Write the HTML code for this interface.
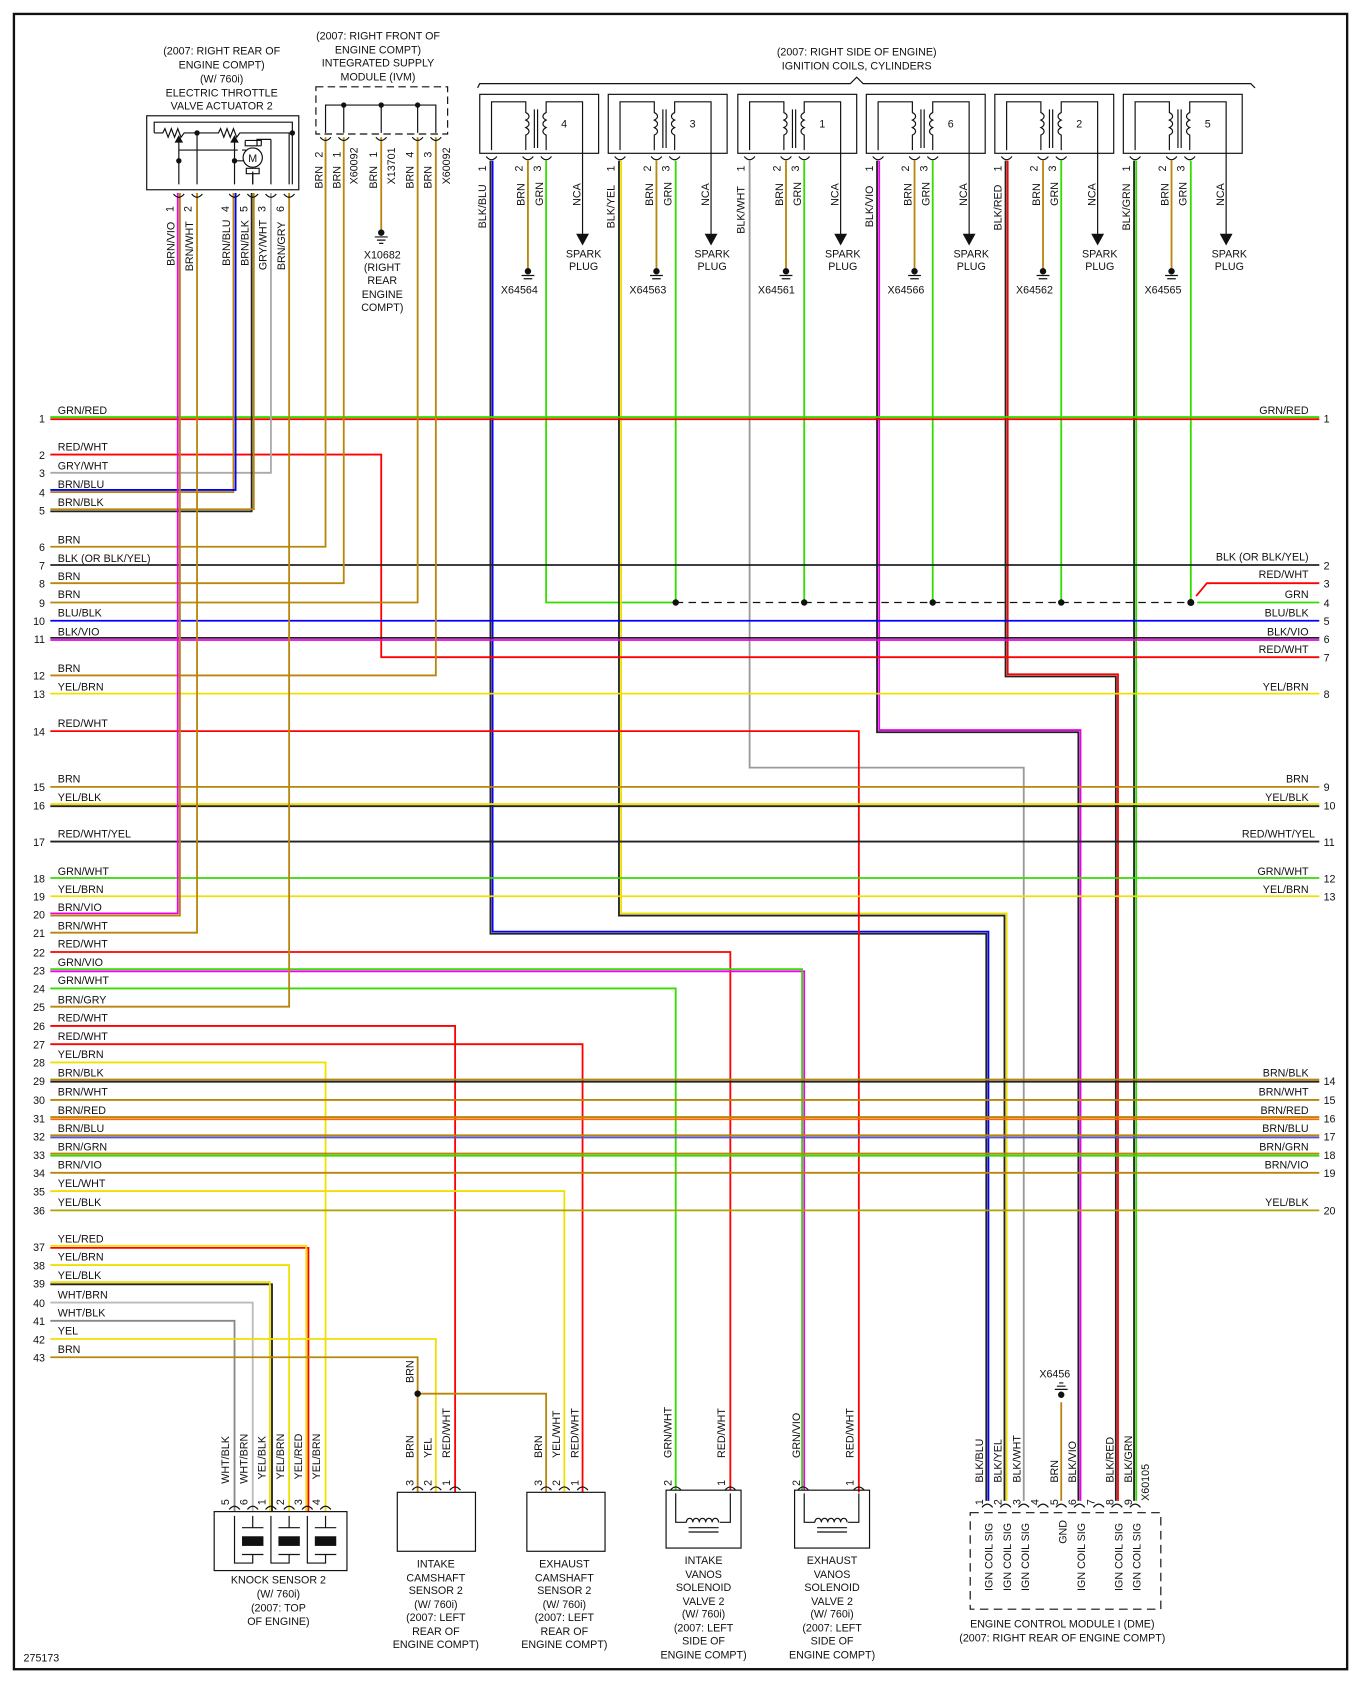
<!DOCTYPE html>
<html><head><meta charset="utf-8"><style>
html,body{margin:0;padding:0;background:#fff;}
svg{display:block;}
text{font-family:"Liberation Sans",sans-serif;font-size:10px;fill:#111;}
.w{fill:none;stroke-width:1.7;}
.k{fill:none;stroke:#111;stroke-width:1.1;}
</style></head><body>
<svg width="1360" height="1681" viewBox="0 0 1270 1568" preserveAspectRatio="none" xmlns="http://www.w3.org/2000/svg">
<rect x="0" y="0" width="1270" height="1568" fill="#fff"/>
<rect x="13" y="13" width="1245" height="1544" fill="none" stroke="#111" stroke-width="2.2"/>

<!-- ===== Top captions ===== -->
<g text-anchor="middle">
<text x="207" y="51">(2007: RIGHT REAR OF</text>
<text x="207" y="64">ENGINE COMPT)</text>
<text x="207" y="77">(W/ 760i)</text>
<text x="207" y="90">ELECTRIC THROTTLE</text>
<text x="207" y="102">VALVE ACTUATOR 2</text>
<text x="353" y="37">(2007: RIGHT FRONT OF</text>
<text x="353" y="50">ENGINE COMPT)</text>
<text x="353" y="62">INTEGRATED SUPPLY</text>
<text x="353" y="75">MODULE (IVM)</text>
<text x="800" y="52">(2007: RIGHT SIDE OF ENGINE)</text>
<text x="800" y="65">IGNITION COILS, CYLINDERS</text>
</g>
<path class="k" d="M446 82 L448 78 H794 L800 72 L806 78 H1168 L1172 82"/>

<!-- ===== Throttle actuator ===== -->
<rect x="137" y="108" width="142" height="69" class="k"/>
<path class="k" d="M144 124 V114 H273 V124 M144 124 H152 l2 -4 l3 8 l3 -8 l3 8 l3 -8 l3 8 l3 -4 H204 l2 -4 l3 8 l3 -8 l3 8 l3 -8 l3 8 l3 -4 H273 V172"/>
<path class="k" d="M167 128 V172 M184 124 V172 M219 128 V172 M236 160 V172 M253 130 V172 M167 140 H222 M226 140 H230"/>
<path d="M163 133 L167 126 L171 133Z M215 133 L219 126 L223 133Z" fill="#111"/>
<circle cx="167" cy="150" r="2.5" fill="#111"/><circle cx="184" cy="124" r="2.5" fill="#111"/><circle cx="219" cy="150" r="2.5" fill="#111"/><circle cx="273" cy="124" r="2.5" fill="#111"/>
<path class="k" d="M219 150 H228 M229 131 H244 V136 M253 130 H240 V136 M229 131 V136 H244"/>
<circle cx="236" cy="147" r="9" class="k"/><text x="236" y="151" text-anchor="middle" font-size="11">M</text>
<path class="k" d="M230 157 H242 V162 H230Z M236 162 V172 M270 124 V172"/>
<g text-anchor="middle" font-size="10">
<g transform="translate(162,195) rotate(-90)"><text>1</text></g>
<g transform="translate(179,195) rotate(-90)"><text>2</text></g>
<g transform="translate(214,195) rotate(-90)"><text>4</text></g>
<g transform="translate(231,195) rotate(-90)"><text>5</text></g>
<g transform="translate(248,195) rotate(-90)"><text>3</text></g>
<g transform="translate(265,195) rotate(-90)"><text>6</text></g>
</g>
<g>
<g transform="translate(163,248) rotate(-90)"><text>BRN/VIO</text></g>
<g transform="translate(180,253) rotate(-90)"><text>BRN/WHT</text></g>
<g transform="translate(215,248) rotate(-90)"><text>BRN/BLU</text></g>
<g transform="translate(232,248) rotate(-90)"><text>BRN/BLK</text></g>
<g transform="translate(249,252) rotate(-90)"><text>GRY/WHT</text></g>
<g transform="translate(266,252) rotate(-90)"><text>BRN/GRY</text></g>
</g>

<!-- ===== IVM ===== -->
<rect x="295" y="81" width="123" height="44" fill="none" stroke="#111" stroke-width="1.1" stroke-dasharray="7,4"/>
<path class="k" d="M304 124 V98 H407 V124 M321 98 V124 M356 98 V124 M390 98 V124"/>
<circle cx="321" cy="98" r="2.5" fill="#111"/><circle cx="356" cy="98" r="2.5" fill="#111"/><circle cx="390" cy="98" r="2.5" fill="#111"/>
<g>
<g transform="translate(301,147) rotate(-90)"><text>2</text></g>
<g transform="translate(301,176) rotate(-90)"><text>BRN</text></g>
<g transform="translate(318,147) rotate(-90)"><text>1</text></g>
<g transform="translate(318,176) rotate(-90)"><text>BRN</text></g>
<g transform="translate(334,172) rotate(-90)"><text>X60092</text></g>
<g transform="translate(352,147) rotate(-90)"><text>1</text></g>
<g transform="translate(352,176) rotate(-90)"><text>BRN</text></g>
<g transform="translate(369,172) rotate(-90)"><text>X13701</text></g>
<g transform="translate(386,147) rotate(-90)"><text>4</text></g>
<g transform="translate(386,176) rotate(-90)"><text>BRN</text></g>
<g transform="translate(403,147) rotate(-90)"><text>3</text></g>
<g transform="translate(403,176) rotate(-90)"><text>BRN</text></g>
<g transform="translate(420,172) rotate(-90)"><text>X60092</text></g>
</g>
<path class="w" stroke="#b8860b" d="M356 128 V214"/>
<circle cx="356" cy="217" r="3" fill="#111"/><path class="k" d="M350 221 H362 M352 224 H360 M354 227 H358"/>
<g text-anchor="middle"><text x="357" y="241">X10682</text><text x="357" y="253">(RIGHT</text><text x="357" y="265">REAR</text><text x="357" y="278">ENGINE</text><text x="357" y="290">COMPT)</text></g>

<!-- ===== Coils ===== -->
<g id="coils">
<!-- coil template repeated -->
<g transform="translate(448,0)">
<rect x="0" y="88" width="111" height="55" class="k"/>
<path class="k" d="M11 140 V95 H43 V105 c4 2 4 5 0 7 c4 2 4 5 0 7 c4 2 4 5 0 7 V140 M62 140 V126 c-4 -2 -4 -5 0 -7 c-4 -2 -4 -5 0 -7 c-4 -2 -4 -5 0 -7 V95 H96 V222 M51 102 V138 M54 102 V138"/>
<path d="M90 218 L102 218 L96 229Z" fill="#111"/>
<text x="76" y="119">4</text>
</g>
<g transform="translate(568,0)">
<rect x="0" y="88" width="111" height="55" class="k"/>
<path class="k" d="M11 140 V95 H43 V105 c4 2 4 5 0 7 c4 2 4 5 0 7 c4 2 4 5 0 7 V140 M62 140 V126 c-4 -2 -4 -5 0 -7 c-4 -2 -4 -5 0 -7 c-4 -2 -4 -5 0 -7 V95 H96 V222 M51 102 V138 M54 102 V138"/>
<path d="M90 218 L102 218 L96 229Z" fill="#111"/>
<text x="76" y="119">3</text>
</g>
<g transform="translate(689,0)">
<rect x="0" y="88" width="111" height="55" class="k"/>
<path class="k" d="M11 140 V95 H43 V105 c4 2 4 5 0 7 c4 2 4 5 0 7 c4 2 4 5 0 7 V140 M62 140 V126 c-4 -2 -4 -5 0 -7 c-4 -2 -4 -5 0 -7 c-4 -2 -4 -5 0 -7 V95 H96 V222 M51 102 V138 M54 102 V138"/>
<path d="M90 218 L102 218 L96 229Z" fill="#111"/>
<text x="76" y="119">1</text>
</g>
<g transform="translate(809,0)">
<rect x="0" y="88" width="111" height="55" class="k"/>
<path class="k" d="M11 140 V95 H43 V105 c4 2 4 5 0 7 c4 2 4 5 0 7 c4 2 4 5 0 7 V140 M62 140 V126 c-4 -2 -4 -5 0 -7 c-4 -2 -4 -5 0 -7 c-4 -2 -4 -5 0 -7 V95 H96 V222 M51 102 V138 M54 102 V138"/>
<path d="M90 218 L102 218 L96 229Z" fill="#111"/>
<text x="76" y="119">6</text>
</g>
<g transform="translate(929,0)">
<rect x="0" y="88" width="111" height="55" class="k"/>
<path class="k" d="M11 140 V95 H43 V105 c4 2 4 5 0 7 c4 2 4 5 0 7 c4 2 4 5 0 7 V140 M62 140 V126 c-4 -2 -4 -5 0 -7 c-4 -2 -4 -5 0 -7 c-4 -2 -4 -5 0 -7 V95 H96 V222 M51 102 V138 M54 102 V138"/>
<path d="M90 218 L102 218 L96 229Z" fill="#111"/>
<text x="76" y="119">2</text>
</g>
<g transform="translate(1049,0)">
<rect x="0" y="88" width="111" height="55" class="k"/>
<path class="k" d="M11 140 V95 H43 V105 c4 2 4 5 0 7 c4 2 4 5 0 7 c4 2 4 5 0 7 V140 M62 140 V126 c-4 -2 -4 -5 0 -7 c-4 -2 -4 -5 0 -7 c-4 -2 -4 -5 0 -7 V95 H96 V222 M51 102 V138 M54 102 V138"/>
<path d="M90 218 L102 218 L96 229Z" fill="#111"/>
<text x="76" y="119">5</text>
</g>
</g>
<!-- coil labels -->
<g>
<g transform="translate(454,160) rotate(-90)"><text>1</text></g><g transform="translate(454,213) rotate(-90)"><text>BLK/BLU</text></g>
<g transform="translate(488,160) rotate(-90)"><text>2</text></g><g transform="translate(490,192) rotate(-90)"><text>BRN</text></g>
<g transform="translate(505,160) rotate(-90)"><text>3</text></g><g transform="translate(507,192) rotate(-90)"><text>GRN</text></g>
<g transform="translate(542,192) rotate(-90)"><text>NCA</text></g>
<g transform="translate(574,160) rotate(-90)"><text>1</text></g><g transform="translate(574,213) rotate(-90)"><text>BLK/YEL</text></g>
<g transform="translate(608,160) rotate(-90)"><text>2</text></g><g transform="translate(610,192) rotate(-90)"><text>BRN</text></g>
<g transform="translate(625,160) rotate(-90)"><text>3</text></g><g transform="translate(627,192) rotate(-90)"><text>GRN</text></g>
<g transform="translate(662,192) rotate(-90)"><text>NCA</text></g>
<g transform="translate(695,160) rotate(-90)"><text>1</text></g><g transform="translate(695,218) rotate(-90)"><text>BLK/WHT</text></g>
<g transform="translate(729,160) rotate(-90)"><text>2</text></g><g transform="translate(731,192) rotate(-90)"><text>BRN</text></g>
<g transform="translate(746,160) rotate(-90)"><text>3</text></g><g transform="translate(748,192) rotate(-90)"><text>GRN</text></g>
<g transform="translate(783,192) rotate(-90)"><text>NCA</text></g>
<g transform="translate(815,160) rotate(-90)"><text>1</text></g><g transform="translate(815,212) rotate(-90)"><text>BLK/VIO</text></g>
<g transform="translate(849,160) rotate(-90)"><text>2</text></g><g transform="translate(851,192) rotate(-90)"><text>BRN</text></g>
<g transform="translate(866,160) rotate(-90)"><text>3</text></g><g transform="translate(868,192) rotate(-90)"><text>GRN</text></g>
<g transform="translate(903,192) rotate(-90)"><text>NCA</text></g>
<g transform="translate(935,160) rotate(-90)"><text>1</text></g><g transform="translate(935,215) rotate(-90)"><text>BLK/RED</text></g>
<g transform="translate(969,160) rotate(-90)"><text>2</text></g><g transform="translate(971,192) rotate(-90)"><text>BRN</text></g>
<g transform="translate(986,160) rotate(-90)"><text>3</text></g><g transform="translate(988,192) rotate(-90)"><text>GRN</text></g>
<g transform="translate(1023,192) rotate(-90)"><text>NCA</text></g>
<g transform="translate(1055,160) rotate(-90)"><text>1</text></g><g transform="translate(1055,215) rotate(-90)"><text>BLK/GRN</text></g>
<g transform="translate(1089,160) rotate(-90)"><text>2</text></g><g transform="translate(1091,192) rotate(-90)"><text>BRN</text></g>
<g transform="translate(1106,160) rotate(-90)"><text>3</text></g><g transform="translate(1108,192) rotate(-90)"><text>GRN</text></g>
<g transform="translate(1143,192) rotate(-90)"><text>NCA</text></g>
</g>
<g text-anchor="middle">
<text x="545" y="240">SPARK</text><text x="545" y="252">PLUG</text>
<text x="665" y="240">SPARK</text><text x="665" y="252">PLUG</text>
<text x="787" y="240">SPARK</text><text x="787" y="252">PLUG</text>
<text x="907" y="240">SPARK</text><text x="907" y="252">PLUG</text>
<text x="1027" y="240">SPARK</text><text x="1027" y="252">PLUG</text>
<text x="1148" y="240">SPARK</text><text x="1148" y="252">PLUG</text>
<text x="485" y="274">X64564</text><text x="605" y="274">X64563</text><text x="725" y="274">X64561</text>
<text x="846" y="274">X64566</text><text x="966" y="274">X64562</text><text x="1086" y="274">X64565</text>
</g>
<!-- brown pin2 to grounds -->
<g stroke="#b8860b" class="w">
<path class="w" stroke="#b8860b" d="M493 150 V250 M613 150 V250 M734 150 V250 M854 150 V250 M974 150 V250 M1094 150 V250"/>
</g>
<g fill="#111">
<circle cx="493" cy="253" r="3"/><circle cx="613" cy="253" r="3"/><circle cx="734" cy="253" r="3"/><circle cx="854" cy="253" r="3"/><circle cx="974" cy="253" r="3"/><circle cx="1094" cy="253" r="3"/>
</g>
<path class="k" d="M487 257 H499 M489 260 H497 M607 257 H619 M609 260 H617 M728 257 H740 M730 260 H738 M848 257 H860 M850 260 H858 M968 257 H980 M970 260 H978 M1088 257 H1100 M1090 260 H1098"/>

<!-- ===== Coil GRN wires and dashed bus ===== -->
<path class="w" stroke="#33dd00" d="M510 150 V562 H631 M631 150 V562 M751 150 V562 M871 150 V562 M991 150 V562 M1112 150 V562 M1118 562 H1232"/>
<path d="M631 562 H1112" stroke="#111" stroke-width="1.2" stroke-dasharray="7,5" fill="none"/>
<g fill="#111"><circle cx="631" cy="562" r="3"/><circle cx="751" cy="562" r="3"/><circle cx="871" cy="562" r="3"/><circle cx="991" cy="562" r="3"/><circle cx="1112" cy="562" r="3.3"/></g>
<path class="w" stroke="#ff0000" d="M1117 556 L1127 544 H1232"/>

<!-- ===== Coil pin1 wires to ECM ===== -->
<path class="w" stroke="#222" d="M458 150 V871 H921 V1400"/>
<path class="w" stroke="#0000ff" d="M460 150 V869 H923 V1400"/>
<path class="w" stroke="#222" d="M578 150 V854 H938 V1400"/>
<path class="w" stroke="#f0e000" d="M580 150 V852 H940 V1400"/>
<path class="w" stroke="#999" d="M700 150 V716 H956 V1400"/>
<path class="w" stroke="#222" d="M819 150 V683 H1007 V1400"/>
<path class="w" stroke="#ee00ee" d="M821 150 V681 H1009 V1400"/>
<path class="w" stroke="#222" d="M939 150 V631 H1042 V1400"/>
<path class="w" stroke="#ff0000" d="M941 150 V629 H1044 V1400"/>
<path class="w" stroke="#222" d="M1059 150 V1400"/>
<path class="w" stroke="#33dd00" d="M1061 150 V1400"/>

<!-- ===== Left side wires ===== -->
<path class="w" stroke="#ff0000" d="M47 391 H1232"/>
<path class="w" stroke="#33dd00" d="M47 389 H1232"/>
<path class="w" stroke="#ff0000" d="M47 424 H356 V613 H1232"/>
<path class="w" stroke="#aaaaaa" d="M47 441 H253 V180"/>
<path class="w" stroke="#b8860b" d="M47 459 H218 V180"/>
<path class="w" stroke="#0000ff" d="M47 457 H220 V180" stroke-width="1"/>
<path class="w" stroke="#222" d="M47 477 H235 V180"/>
<path class="w" stroke="#b8860b" d="M47 475 H237 V180"/>
<path class="w" stroke="#b8860b" d="M47 510 H304 V128"/>
<path class="w" stroke="#222" d="M47 527 H1232"/>
<path class="w" stroke="#b8860b" d="M47 544 H321 V128"/>
<path class="w" stroke="#b8860b" d="M47 562 H390 V128"/>
<path class="w" stroke="#0000ff" d="M47 579 H1232"/>
<path class="w" stroke="#ee00ee" d="M47 597 H1232"/>
<path class="w" stroke="#222" d="M47 595 H1232"/>
<path class="w" stroke="#b8860b" d="M47 630 H407 V128"/>
<path class="w" stroke="#f0e000" d="M47 647 H1232"/>
<path class="w" stroke="#ff0000" d="M47 682 H802 V1392"/>
<path class="w" stroke="#b8860b" d="M47 734 H1232"/>
<path class="w" stroke="#222" d="M47 752 H1232" stroke-width="1"/>
<path class="w" stroke="#f0e000" d="M47 750 H1232"/>
<path class="w" stroke="#222" d="M47 785 H1232"/>
<path class="w" stroke="#33dd00" d="M47 819 H1232"/>
<path class="w" stroke="#f0e000" d="M47 836 H1232"/>
<path class="w" stroke="#b8860b" d="M47 854 H168 V180"/>
<path class="w" stroke="#ee00ee" d="M47 852 H166 V180"/>
<path class="w" stroke="#b8860b" d="M47 870 H184 V180"/>
<path class="w" stroke="#ff0000" d="M47 888 H682 V1390"/>
<path class="w" stroke="#ee00ee" d="M47 906 H751 V1390"/>
<path class="w" stroke="#33dd00" d="M47 904 H749 V1390"/>
<path class="w" stroke="#33dd00" d="M47 922 H631 V1390"/>
<path class="w" stroke="#b8860b" d="M47 939 H270 V180"/>
<path class="w" stroke="#ff0000" d="M47 957 H425 V1392"/>
<path class="w" stroke="#ff0000" d="M47 974 H544 V1392"/>
<path class="w" stroke="#f0e000" d="M47 991 H304 V1410"/>
<path class="w" stroke="#222" d="M47 1009 H1232"/><path class="w" stroke="#b8860b" d="M47 1007 H1232"/>
<path class="w" stroke="#b8860b" d="M47 1026 H1232"/>
<path class="w" stroke="#ff6600" d="M47 1044 H1232" stroke-width="1"/><path class="w" stroke="#b8860b" d="M47 1042 H1232"/>
<path class="w" stroke="#5555cc" d="M47 1061 H1232" stroke-width="1"/><path class="w" stroke="#b8860b" d="M47 1059 H1232"/>
<path class="w" stroke="#33dd00" d="M47 1078 H1232" stroke-width="1"/><path class="w" stroke="#b8860b" d="M47 1076 H1232"/>
<path class="w" stroke="#b8860b" d="M47 1094 H1232"/>
<path class="w" stroke="#f0e000" d="M47 1111 H527 V1392"/>
<path class="w" stroke="#b0a000" d="M47 1129 H1232"/>
<path class="w" stroke="#ff0000" d="M47 1164 H288 V1410" stroke-width="1"/><path class="w" stroke="#f0e000" d="M47 1162 H286 V1410"/>
<path class="w" stroke="#f0e000" d="M47 1180 H270 V1410"/>
<path class="w" stroke="#222" d="M47 1198 H254 V1410" stroke-width="1"/><path class="w" stroke="#f0e000" d="M47 1196 H252 V1410"/>
<path class="w" stroke="#bbbbbb" d="M47 1215 H236 V1410"/>
<path class="w" stroke="#888" d="M47 1232 H219 V1410"/>
<path class="w" stroke="#f0e000" d="M47 1249 H407 V1392"/>
<path class="w" stroke="#b8860b" d="M47 1266 H390 V1392 M390 1300 H510 V1392"/>
<circle cx="390" cy="1300" r="3" fill="#111"/>
<path class="w" stroke="#b8860b" d="M991 1308 V1400"/>
<circle cx="991" cy="1301" r="3" fill="#111"/><path class="k" d="M985 1296 H997 M987 1293 H995 M989 1290 H993"/>
<text x="985" y="1285" text-anchor="middle">X6456</text>

<!-- left numbers -->
<g text-anchor="end">
<text x="42" y="394">1</text><text x="42" y="428">2</text><text x="42" y="445">3</text><text x="42" y="463">4</text><text x="42" y="480">5</text>
<text x="42" y="514">6</text><text x="42" y="531">7</text><text x="42" y="548">8</text><text x="42" y="566">9</text><text x="42" y="583">10</text>
<text x="42" y="600">11</text><text x="42" y="634">12</text><text x="42" y="651">13</text><text x="42" y="686">14</text><text x="42" y="738">15</text>
<text x="42" y="755">16</text><text x="42" y="789">17</text><text x="42" y="823">18</text><text x="42" y="840">19</text><text x="42" y="857">20</text>
<text x="42" y="874">21</text><text x="42" y="892">22</text><text x="42" y="909">23</text><text x="42" y="926">24</text><text x="42" y="943">25</text>
<text x="42" y="961">26</text><text x="42" y="978">27</text><text x="42" y="995">28</text><text x="42" y="1012">29</text><text x="42" y="1030">30</text>
<text x="42" y="1047">31</text><text x="42" y="1064">32</text><text x="42" y="1081">33</text><text x="42" y="1098">34</text><text x="42" y="1115">35</text>
<text x="42" y="1133">36</text><text x="42" y="1167">37</text><text x="42" y="1184">38</text><text x="42" y="1201">39</text><text x="42" y="1219">40</text>
<text x="42" y="1236">41</text><text x="42" y="1253">42</text><text x="42" y="1270">43</text>
</g>
<!-- left labels -->
<g>
<text x="54" y="386">GRN/RED</text><text x="54" y="420">RED/WHT</text><text x="54" y="438">GRY/WHT</text><text x="54" y="455">BRN/BLU</text><text x="54" y="472">BRN/BLK</text>
<text x="54" y="507">BRN</text><text x="54" y="524">BLK (OR BLK/YEL)</text><text x="54" y="541">BRN</text><text x="54" y="558">BRN</text><text x="54" y="575">BLU/BLK</text>
<text x="54" y="593">BLK/VIO</text><text x="54" y="627">BRN</text><text x="54" y="644">YEL/BRN</text><text x="54" y="678">RED/WHT</text><text x="54" y="730">BRN</text>
<text x="54" y="747">YEL/BLK</text><text x="54" y="781">RED/WHT/YEL</text><text x="54" y="816">GRN/WHT</text><text x="54" y="833">YEL/BRN</text><text x="54" y="850">BRN/VIO</text>
<text x="54" y="867">BRN/WHT</text><text x="54" y="884">RED/WHT</text><text x="54" y="901">GRN/VIO</text><text x="54" y="918">GRN/WHT</text><text x="54" y="936">BRN/GRY</text>
<text x="54" y="953">RED/WHT</text><text x="54" y="970">RED/WHT</text><text x="54" y="987">YEL/BRN</text><text x="54" y="1004">BRN/BLK</text><text x="54" y="1022">BRN/WHT</text>
<text x="54" y="1039">BRN/RED</text><text x="54" y="1056">BRN/BLU</text><text x="54" y="1073">BRN/GRN</text><text x="54" y="1090">BRN/VIO</text><text x="54" y="1107">YEL/WHT</text>
<text x="54" y="1125">YEL/BLK</text><text x="54" y="1159">YEL/RED</text><text x="54" y="1176">YEL/BRN</text><text x="54" y="1193">YEL/BLK</text><text x="54" y="1211">WHT/BRN</text>
<text x="54" y="1228">WHT/BLK</text><text x="54" y="1245">YEL</text><text x="54" y="1262">BRN</text>
</g>
<!-- right labels -->
<g text-anchor="end">
<text x="1222" y="386">GRN/RED</text><text x="1222" y="523">BLK (OR BLK/YEL)</text><text x="1222" y="539">RED/WHT</text><text x="1222" y="558">GRN</text>
<text x="1222" y="575">BLU/BLK</text><text x="1222" y="593">BLK/VIO</text><text x="1222" y="609">RED/WHT</text><text x="1222" y="644">YEL/BRN</text>
<text x="1222" y="730">BRN</text><text x="1222" y="747">YEL/BLK</text><text x="1228" y="781">RED/WHT/YEL</text><text x="1222" y="816">GRN/WHT</text><text x="1222" y="833">YEL/BRN</text>
<text x="1222" y="1004">BRN/BLK</text><text x="1222" y="1022">BRN/WHT</text><text x="1222" y="1039">BRN/RED</text><text x="1222" y="1056">BRN/BLU</text>
<text x="1222" y="1073">BRN/GRN</text><text x="1222" y="1090">BRN/VIO</text><text x="1222" y="1125">YEL/BLK</text>
</g>
<g>
<text x="1236" y="394">1</text><text x="1236" y="531">2</text><text x="1236" y="548">3</text><text x="1236" y="566">4</text><text x="1236" y="583">5</text>
<text x="1236" y="600">6</text><text x="1236" y="617">7</text><text x="1236" y="651">8</text><text x="1236" y="738">9</text><text x="1236" y="755">10</text>
<text x="1236" y="789">11</text><text x="1236" y="823">12</text><text x="1236" y="840">13</text><text x="1236" y="1012">14</text><text x="1236" y="1030">15</text>
<text x="1236" y="1047">16</text><text x="1236" y="1064">17</text><text x="1236" y="1081">18</text><text x="1236" y="1098">19</text><text x="1236" y="1133">20</text>
</g>

<!-- ===== Knock sensor ===== -->
<rect x="200" y="1410" width="124" height="55" class="k"/>
<path class="k" d="M219 1414 V1458 H236 V1450 M236 1414 V1425 M253 1414 V1458 H270 V1450 M270 1414 V1425 M287 1414 V1458 H304 V1450 M304 1414 V1425 M226 1425 H246 M226 1450 H246 M260 1425 H280 M260 1450 H280 M294 1425 H314 M294 1450 H314"/>
<rect x="226" y="1433" width="20" height="9" fill="#111"/><rect x="260" y="1433" width="20" height="9" fill="#111"/><rect x="294" y="1433" width="20" height="9" fill="#111"/>
<g>
<g transform="translate(214,1384) rotate(-90)"><text>WHT/BLK</text></g>
<g transform="translate(231,1384) rotate(-90)"><text>WHT/BRN</text></g>
<g transform="translate(248,1380) rotate(-90)"><text>YEL/BLK</text></g>
<g transform="translate(265,1380) rotate(-90)"><text>YEL/BRN</text></g>
<g transform="translate(282,1380) rotate(-90)"><text>YEL/RED</text></g>
<g transform="translate(299,1380) rotate(-90)"><text>YEL/BRN</text></g>
<g transform="translate(214,1404) rotate(-90)"><text>5</text></g><g transform="translate(231,1404) rotate(-90)"><text>6</text></g>
<g transform="translate(248,1404) rotate(-90)"><text>1</text></g><g transform="translate(265,1404) rotate(-90)"><text>2</text></g>
<g transform="translate(282,1404) rotate(-90)"><text>3</text></g><g transform="translate(299,1404) rotate(-90)"><text>4</text></g>
</g>
<g text-anchor="middle"><text x="260" y="1477">KNOCK SENSOR 2</text><text x="260" y="1490">(W/ 760i)</text><text x="260" y="1503">(2007: TOP</text><text x="260" y="1516">OF ENGINE)</text></g>

<!-- ===== Cam sensors ===== -->
<rect x="371" y="1392" width="73" height="55" class="k"/>
<rect x="492" y="1392" width="73" height="55" class="k"/>
<g>
<g transform="translate(386,1290) rotate(-90)"><text>BRN</text></g>
<g transform="translate(386,1360) rotate(-90)"><text>BRN</text></g>
<g transform="translate(403,1360) rotate(-90)"><text>YEL</text></g>
<g transform="translate(420,1360) rotate(-90)"><text>RED/WHT</text></g>
<g transform="translate(386,1386) rotate(-90)"><text>3</text></g><g transform="translate(403,1386) rotate(-90)"><text>2</text></g><g transform="translate(420,1386) rotate(-90)"><text>1</text></g>
<g transform="translate(506,1360) rotate(-90)"><text>BRN</text></g>
<g transform="translate(523,1360) rotate(-90)"><text>YEL/WHT</text></g>
<g transform="translate(540,1360) rotate(-90)"><text>RED/WHT</text></g>
<g transform="translate(506,1386) rotate(-90)"><text>3</text></g><g transform="translate(523,1386) rotate(-90)"><text>2</text></g><g transform="translate(540,1386) rotate(-90)"><text>1</text></g>
</g>
<g text-anchor="middle">
<text x="407" y="1462">INTAKE</text><text x="407" y="1475">CAMSHAFT</text><text x="407" y="1487">SENSOR 2</text><text x="407" y="1500">(W/ 760i)</text><text x="407" y="1512">(2007: LEFT</text><text x="407" y="1525">REAR OF</text><text x="407" y="1537">ENGINE COMPT)</text>
<text x="527" y="1462">EXHAUST</text><text x="527" y="1475">CAMSHAFT</text><text x="527" y="1487">SENSOR 2</text><text x="527" y="1500">(W/ 760i)</text><text x="527" y="1512">(2007: LEFT</text><text x="527" y="1525">REAR OF</text><text x="527" y="1537">ENGINE COMPT)</text>
</g>

<!-- ===== VANOS ===== -->
<rect x="622" y="1390" width="70" height="54" class="k"/>
<rect x="742" y="1390" width="70" height="54" class="k"/>
<path class="k" d="M631 1393 V1420 H641 M682 1393 V1420 H672 M641 1420 c0 -5 6 -5 6 0 c0 -5 6 -5 6 0 c0 -5 6 -5 6 0 c0 -5 6 -5 6 0 c0 -5 6 -5 6 0 M643 1425 H671 M643 1429 H671
M751 1393 V1420 H761 M802 1393 V1420 H792 M761 1420 c0 -5 6 -5 6 0 c0 -5 6 -5 6 0 c0 -5 6 -5 6 0 c0 -5 6 -5 6 0 c0 -5 6 -5 6 0 M763 1425 H791 M763 1429 H791"/>
<g>
<g transform="translate(627,1360) rotate(-90)"><text>GRN/WHT</text></g>
<g transform="translate(677,1360) rotate(-90)"><text>RED/WHT</text></g>
<g transform="translate(627,1386) rotate(-90)"><text>2</text></g><g transform="translate(677,1386) rotate(-90)"><text>1</text></g>
<g transform="translate(747,1360) rotate(-90)"><text>GRN/VIO</text></g>
<g transform="translate(797,1360) rotate(-90)"><text>RED/WHT</text></g>
<g transform="translate(747,1386) rotate(-90)"><text>2</text></g><g transform="translate(797,1386) rotate(-90)"><text>1</text></g>
</g>
<g text-anchor="middle">
<text x="657" y="1459">INTAKE</text><text x="657" y="1472">VANOS</text><text x="657" y="1484">SOLENOID</text><text x="657" y="1497">VALVE 2</text><text x="657" y="1509">(W/ 760i)</text><text x="657" y="1522">(2007: LEFT</text><text x="657" y="1534">SIDE OF</text><text x="657" y="1547">ENGINE COMPT)</text>
<text x="777" y="1459">EXHAUST</text><text x="777" y="1472">VANOS</text><text x="777" y="1484">SOLENOID</text><text x="777" y="1497">VALVE 2</text><text x="777" y="1509">(W/ 760i)</text><text x="777" y="1522">(2007: LEFT</text><text x="777" y="1534">SIDE OF</text><text x="777" y="1547">ENGINE COMPT)</text>
</g>

<!-- ===== ECM ===== -->
<rect x="906" y="1411" width="178" height="90" fill="none" stroke="#111" stroke-width="1.1" stroke-dasharray="8,5"/>
<g>
<g transform="translate(918,1383) rotate(-90)"><text>BLK/BLU</text></g>
<g transform="translate(935,1383) rotate(-90)"><text>BLK/YEL</text></g>
<g transform="translate(953,1383) rotate(-90)"><text>BLK/WHT</text></g>
<g transform="translate(988,1383) rotate(-90)"><text>BRN</text></g>
<g transform="translate(1005,1383) rotate(-90)"><text>BLK/VIO</text></g>
<g transform="translate(1040,1383) rotate(-90)"><text>BLK/RED</text></g>
<g transform="translate(1057,1383) rotate(-90)"><text>BLK/GRN</text></g>
<g transform="translate(1073,1400) rotate(-90)"><text>X60105</text></g>
<g transform="translate(918,1404) rotate(-90)"><text>1</text></g><g transform="translate(935,1404) rotate(-90)"><text>2</text></g>
<g transform="translate(953,1404) rotate(-90)"><text>3</text></g><g transform="translate(970,1404) rotate(-90)"><text>4</text></g>
<g transform="translate(988,1404) rotate(-90)"><text>5</text></g><g transform="translate(1005,1404) rotate(-90)"><text>6</text></g>
<g transform="translate(1022,1404) rotate(-90)"><text>7</text></g><g transform="translate(1040,1404) rotate(-90)"><text>8</text></g>
<g transform="translate(1057,1404) rotate(-90)"><text>9</text></g>
<g transform="translate(927,1484) rotate(-90)"><text>IGN COIL SIG</text></g>
<g transform="translate(944,1484) rotate(-90)"><text>IGN COIL SIG</text></g>
<g transform="translate(961,1484) rotate(-90)"><text>IGN COIL SIG</text></g>
<g transform="translate(996,1440) rotate(-90)"><text>GND</text></g>
<g transform="translate(1013,1484) rotate(-90)"><text>IGN COIL SIG</text></g>
<g transform="translate(1048,1484) rotate(-90)"><text>IGN COIL SIG</text></g>
<g transform="translate(1065,1484) rotate(-90)"><text>IGN COIL SIG</text></g>
</g>
<g text-anchor="middle"><text x="992" y="1518">ENGINE CONTROL MODULE I (DME)</text><text x="992" y="1531">(2007: RIGHT REAR OF ENGINE COMPT)</text></g>

<!-- connector cups -->
<path class="k" d="
M162 181 q5 6 10 0 M179 181 q5 6 10 0 M214 181 q5 6 10 0 M231 181 q5 6 10 0 M248 181 q5 6 10 0 M265 181 q5 6 10 0
M299 128 q5 6 10 0 M316 128 q5 6 10 0 M351 128 q5 6 10 0 M385 128 q5 6 10 0 M402 128 q5 6 10 0
M454 146 q5 6 10 0 M488 146 q5 6 10 0 M505 146 q5 6 10 0
M574 146 q5 6 10 0 M608 146 q5 6 10 0 M625 146 q5 6 10 0
M695 146 q5 6 10 0 M729 146 q5 6 10 0 M746 146 q5 6 10 0
M815 146 q5 6 10 0 M849 146 q5 6 10 0 M866 146 q5 6 10 0
M935 146 q5 6 10 0 M969 146 q5 6 10 0 M986 146 q5 6 10 0
M1055 146 q5 6 10 0 M1089 146 q5 6 10 0 M1106 146 q5 6 10 0
M214 1408 q5 -6 10 0 M231 1408 q5 -6 10 0 M248 1408 q5 -6 10 0 M265 1408 q5 -6 10 0 M282 1408 q5 -6 10 0 M299 1408 q5 -6 10 0
M385 1390 q5 -6 10 0 M402 1390 q5 -6 10 0 M420 1390 q5 -6 10 0
M505 1390 q5 -6 10 0 M522 1390 q5 -6 10 0 M539 1390 q5 -6 10 0
M626 1390 q5 -6 10 0 M677 1390 q5 -6 10 0 M745 1390 q5 -6 10 0 M797 1390 q5 -6 10 0
M917 1406 q5 -6 10 0 M934 1406 q5 -6 10 0 M951 1406 q5 -6 10 0 M969 1406 q5 -6 10 0 M986 1406 q5 -6 10 0 M1003 1406 q5 -6 10 0 M1021 1406 q5 -6 10 0 M1038 1406 q5 -6 10 0 M1055 1406 q5 -6 10 0"/>

<text x="22" y="1550">275173</text>
</svg>
</body></html>
